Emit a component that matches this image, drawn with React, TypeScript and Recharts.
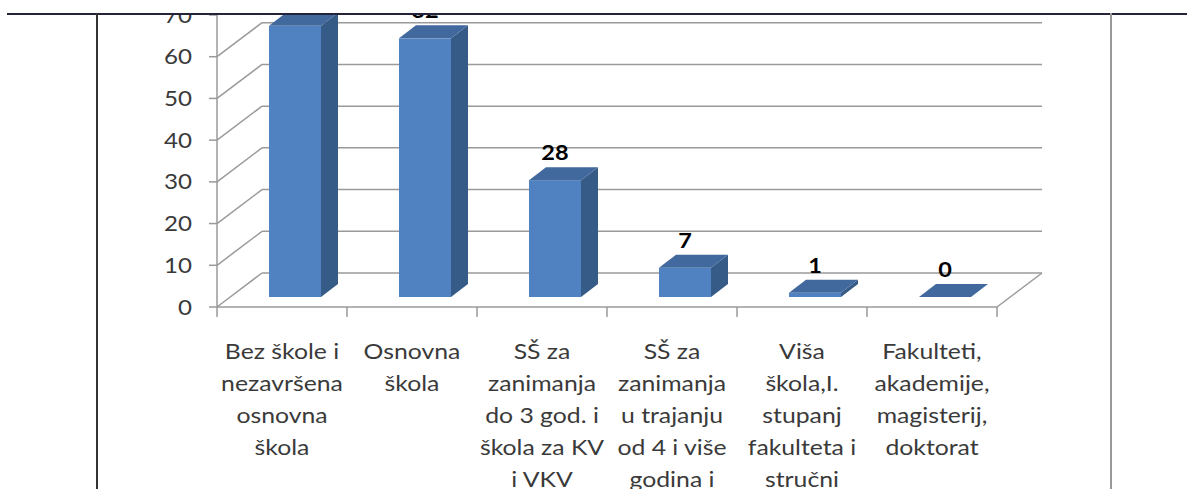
import React from "react";
import { BarChart, Bar, XAxis, YAxis, CartesianGrid, LabelList } from "recharts";

// categories (wrapped the way Excel wrapped them), values, y ticks
const categories = [
  ["Bez škole i", "nezavršena", "osnovna", "škola"],
  ["Osnovna", "škola"],
  ["SŠ za", "zanimanja", "do 3 god. i", "škola za KV", "i VKV"],
  ["SŠ za", "zanimanja", "u trajanju", "od 4 i više", "godina i"],
  ["Viša", "škola,I.", "stupanj", "fakulteta i", "stručni"],
  ["Fakulteti,", "akademije,", "magisterij,", "doktorat"],
];
const values = [65, 62, 28, 7, 1, 0];
const yTicks = [0, 10, 20, 30, 40, 50, 60, 70];

const data = categories.map((lines, i) => ({ name: lines.join(" "), lines, value: values[i] }));

// chart geometry
const W = 1187;
const H = 489;
const PLOT_LEFT = 217;
const PLOT_RIGHT = 190;
const PLOT_W = W - PLOT_LEFT - PLOT_RIGHT;
const BAND = PLOT_W / categories.length;

// 3d look: wall depth, bar offset into the depth, bar depth
const WALL_DX = 45;
const WALL_DY = -34;
const BAR_OX = 13;
const BAR_OY = -10;
const BAR_DX = 17;
const BAR_DY = -13;

const GRAY = "#9a9a9a";
const FONT = "Lato, 'Open Sans', sans-serif";

const gridLine = (props: any) => {
  const { x1, x2, y1, index } = props;
  const bottom = Math.abs(y1 - 307) < 1;
  return (
    <g key={`g-${index}-${y1}`}>
      <line x1={x1} y1={y1} x2={x1 + WALL_DX} y2={y1 + WALL_DY} stroke={GRAY} strokeWidth={1.5} />
      <line x1={x1 + WALL_DX} y1={y1 + WALL_DY} x2={x2 + WALL_DX} y2={y1 + WALL_DY} stroke={GRAY} strokeWidth={1.5} />
      {bottom && (
        <line x1={x2} y1={y1} x2={x2 + WALL_DX} y2={y1 + WALL_DY} stroke={GRAY} strokeWidth={1.5} />
      )}
    </g>
  );
};

const Bar3D = (props: any) => {
  const { x, y, width, height } = props;
  const fx = x + BAR_OX;
  const fy = y + BAR_OY;
  const h = Math.max(height, 0);
  const top = `${fx},${fy} ${fx + BAR_DX},${fy + BAR_DY} ${fx + width + BAR_DX},${fy + BAR_DY} ${fx + width},${fy}`;
  const side = `${fx + width},${fy} ${fx + width + BAR_DX},${fy + BAR_DY} ${fx + width + BAR_DX},${fy + h + BAR_DY} ${fx + width},${fy + h}`;
  return (
    <g>
      <rect x={fx} y={fy} width={width} height={h} fill="#5081c0" />
      <polygon points={side} fill="#375b87" />
      <polygon points={top} fill="#41699d" />
    </g>
  );
};

const ValueLabel = (props: any) => {
  const { x, y, width, value } = props;
  const cx = x + BAR_OX + width / 2;
  const by = y + BAR_OY + BAR_DY - 7;
  return (
    <g transform={`translate(${cx},${by})`}>
      <text transform="scale(1.12,1)" textAnchor="middle" fontFamily={FONT} fontWeight="bold" fontSize={21} fill="#000">
        {value}
      </text>
    </g>
  );
};

const YTick = (props: any) => {
  const { x, y, payload } = props;
  return (
    <g transform={`translate(${x},${y})`}>
      <text transform="scale(1.15,1)" textAnchor="end" dy="0.36em" fontFamily={FONT} fontSize={21} fill="#3a3a3a">
        {payload.value}
      </text>
    </g>
  );
};

const XTick = (props: any) => {
  const { x, y, index } = props;
  const lines = categories[index] || [];
  return (
    <g>
      <line x1={x - BAND / 2} y1={y} x2={x - BAND / 2} y2={y + 10} stroke={GRAY} strokeWidth={1.5} />
      {index === categories.length - 1 && (
        <line x1={x + BAND / 2} y1={y} x2={x + BAND / 2} y2={y + 10} stroke={GRAY} strokeWidth={1.5} />
      )}
      {lines.map((t, i) => (
        <g key={i} transform={`translate(${x},${y + 52 + i * 32})`}>
          <text transform="scale(1.18,1)" textAnchor="middle" fontFamily={FONT} fontSize={21} fill="#3a3a3a">
            {t}
          </text>
        </g>
      ))}
    </g>
  );
};

export default function App() {
  return (
    <div style={{ position: "absolute", left: 0, top: 0, width: W, height: H, overflow: "hidden", background: "#fff" }}>
      <BarChart width={W} height={H} data={data} margin={{ top: 15, right: PLOT_RIGHT, bottom: 0, left: 0 }}>
        <CartesianGrid vertical={false} horizontal={gridLine} />
        <XAxis
          dataKey="name"
          interval={0}
          height={182}
          tickLine={false}
          tickSize={0}
          tickMargin={0}
          axisLine={{ stroke: GRAY, strokeWidth: 1.5 }}
          tick={<XTick />}
        />
        <YAxis
          width={PLOT_LEFT}
          domain={[0, 70]}
          ticks={yTicks}
          tickSize={8}
          tickMargin={17}
          axisLine={{ stroke: GRAY, strokeWidth: 1.5 }}
          tickLine={{ stroke: GRAY, strokeWidth: 1.5 }}
          tick={<YTick />}
        />
        <Bar dataKey="value" barSize={52} shape={<Bar3D />} isAnimationActive={false}>
          <LabelList dataKey="value" content={<ValueLabel />} />
        </Bar>
      </BarChart>
      {/* page/table borders around the pasted chart */}
      <div style={{ position: "absolute", left: 0, top: 0, width: W, height: 13, background: "#fff" }} />
      <div style={{ position: "absolute", left: 7, top: 13, width: W - 7, height: 1.5, background: "#23233a" }} />
      <div style={{ position: "absolute", left: 96, top: 13, width: 2, height: H - 13, background: "#333" }} />
      <div style={{ position: "absolute", left: 1110, top: 13, width: 2, height: H - 13, background: "#999" }} />
    </div>
  );
}
